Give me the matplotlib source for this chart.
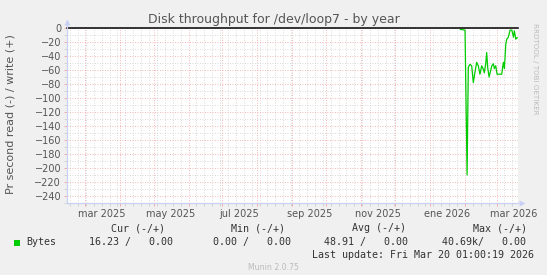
import matplotlib
matplotlib.use("Agg")
import matplotlib.pyplot as plt
import matplotlib.dates as mdates
import matplotlib.transforms as mtransforms
import numpy as np
import pandas as pd

# ---------------- data ----------------
read_dates = ["2026-01-28 00:00", "2026-02-01 02:00", "2026-02-02 22:00", "2026-02-04 00:00",
              "2026-02-05 12:00", "2026-02-07 00:00", "2026-02-08 10:00", "2026-02-09 22:00",
              "2026-02-11 10:00", "2026-02-12 20:00", "2026-02-14 08:00", "2026-02-15 20:00",
              "2026-02-17 08:00", "2026-02-18 05:00", "2026-02-19 10:00", "2026-02-20 07:00",
              "2026-02-21 05:00", "2026-02-22 10:00", "2026-02-23 12:00", "2026-02-24 20:00",
              "2026-02-26 05:00", "2026-02-27 02:00", "2026-02-28 07:00", "2026-03-01 12:00",
              "2026-03-04 02:00", "2026-03-05 14:00", "2026-03-07 02:00", "2026-03-08 00:00",
              "2026-03-09 05:00", "2026-03-10 02:00", "2026-03-11 12:00", "2026-03-13 00:00",
              "2026-03-14 14:00", "2026-03-16 00:00", "2026-03-16 20:00", "2026-03-18 02:00",
              "2026-03-19 00:00", "2026-03-20 00:00"]
read_values = [2, 3, 210, 56, 52, 54, 78, 63, 49, 54, 66, 54, 59, 64, 51, 35,
               57, 70, 63, 54, 51, 58, 54, 66, 66, 66, 49, 58, 23, 16, 13, 3,
               3, 13, 4, 16, 14, 14]

x_start = "2025-02-13 01:00"
x_end = "2026-03-20 01:00"

xlabel_dates = ["2025-03-16", "2025-05-16", "2025-07-16", "2025-09-16",
                "2025-11-16", "2026-01-16", "2026-03-16"]
xlabel_texts = ["mar 2025", "may 2025", "jul 2025", "sep 2025",
                "nov 2025", "ene 2026", "mar 2026"]

y_ticks = list(range(-240, 1, 20))

legend_headers = ["Cur (-/+)", "Min (-/+)", "Avg (-/+)", "Max (-/+)"]
legend_values = ["16.23 /   0.00", "0.00 /   0.00", "48.91 /   0.00", "40.69k/   0.00"]
series_name = "Bytes"
last_update = "Last update: Fri Mar 20 01:00:19 2026"
title = "Disk throughput for /dev/loop7 - by year"
ylabel = "Pr second read (-) / write (+)"

# ---------------- style ----------------
W, H = 547, 275
BG = "#F0F0F0"
GREEN = "#00CC00"
TXT = "#555555"
AXIS = "#C8D0F5"
MGRID = "#F0A0A0"
GRID = "#CFCFCF"

fig = plt.figure(figsize=(W / 100, H / 100), dpi=100, facecolor=BG)
L, R, T, B = 66.7, 518.0, 28.0, 203.0
ax = fig.add_axes([L / W, 1 - B / H, (R - L) / W, (B - T) / H])
ax.set_facecolor("white")

t = pd.to_datetime(read_dates)
ax.plot(t, -np.array(read_values), color=GREEN, lw=0.9, zorder=3)

ax.set_xlim(pd.Timestamp(x_start), pd.Timestamp(x_end))
ax.set_ylim(-250, 0)

# grids
ax.xaxis.set_major_locator(mdates.MonthLocator(bymonthday=1))
ax.xaxis.set_minor_locator(mdates.WeekdayLocator(byweekday=mdates.SU))
ax.xaxis.set_major_formatter(plt.NullFormatter())
ax.set_yticks(y_ticks)
ax.set_yticks(list(range(-250, 1, 10)), minor=True)
ax.grid(which="minor", color=GRID, linestyle=(0, (1, 2)), lw=0.6, zorder=1)
ax.grid(which="major", color=MGRID, linestyle=(0, (1, 2)), lw=0.6, zorder=2)
ax.tick_params(which="both", length=2, width=0.6, colors=TXT, labelsize=7, pad=2)
ax.tick_params(axis="y", which="major", color=MGRID)
ax.tick_params(axis="y", which="minor", color=GRID)
ax.tick_params(axis="x", which="major", color=MGRID)
ax.tick_params(axis="x", which="minor", color=GRID)
for lab in ax.get_yticklabels():
    lab.set_color(TXT)

for s in ["top", "right", "left", "bottom"]:
    ax.spines[s].set_visible(False)

# zero rule
ax.axhline(0, color="black", lw=1.1, zorder=4, clip_on=False)

# axes with arrows
ax.plot([0, 1.0], [0, 0], transform=ax.transAxes, color=AXIS, lw=0.9, clip_on=False, zorder=5)
ax.plot([0, 0], [0, 1.02], transform=ax.transAxes, color=AXIS, lw=0.9, clip_on=False, zorder=5)
ax.plot([1.008], [0], marker=">", ms=4.5, color=AXIS, transform=ax.transAxes, clip_on=False, mec="none")
ax.plot([0], [1.035], marker="^", ms=4.5, color=AXIS, transform=ax.transAxes, clip_on=False, mec="none")

# x labels at mid-month
trans = mtransforms.blended_transform_factory(ax.transData, fig.transFigure)
for d, s in zip(xlabel_dates, xlabel_texts):
    ax.text(mdates.date2num(pd.Timestamp(d)), 1 - 213.7 / H, s, transform=trans,
            ha="center", va="center", fontsize=7, color=TXT, family="DejaVu Sans")

# titles
fig.text(273.4 / W, 1 - 20 / H, title, ha="center", va="center", fontsize=9,
         color=TXT, family="DejaVu Sans")
fig.text(11 / W, 1 - 114 / H, ylabel, rotation=90, ha="center", va="center",
         fontsize=8, color=TXT, family="DejaVu Sans")
fig.text(535.5 / W, 1 - 69 / H, "RRDTOOL / TOBI OETIKER", rotation=270, ha="center",
         va="center", fontsize=5.1, color="#BBBBBB", family="DejaVu Sans")

# legend
mono = dict(family="DejaVu Sans Mono", fontsize=7.2, color="#333333", va="center", ha="left")
hdr_x = [111, 231.3, 352.4, 472.8]
val_x = [89.3, 212.8, 324.5, 442.4]
for x, s in zip(hdr_x, legend_headers):
    fig.text(x / W, 1 - 228.4 / H, s, **mono)
for x, s in zip(val_x, legend_values):
    fig.text(x / W, 1 - 242.3 / H, s, **mono)
fig.text(26.2 / W, 1 - 242.3 / H, series_name, **mono)
fig.patches.append(plt.Rectangle((14 / W, 1 - 245.8 / H), 5.8 / W, 5.8 / H,
                                 transform=fig.transFigure, facecolor=GREEN, edgecolor="none"))
fig.text(311.6 / W, 1 - 254.5 / H, last_update, **mono)
fig.text(273 / W, 1 - 267.5 / H, "Munin 2.0.75", ha="center", va="center",
         fontsize=5.6, color="#BBBBBB", family="DejaVu Sans")

fig.savefig("out.png", dpi=100, facecolor=BG)
